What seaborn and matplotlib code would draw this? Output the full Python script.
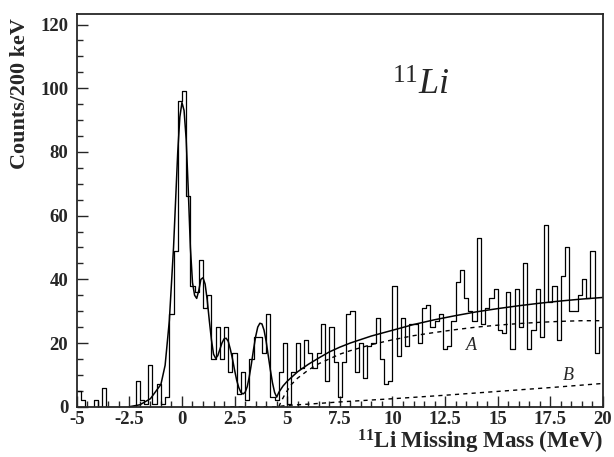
import numpy as np
import pandas as pd
import matplotlib
matplotlib.use("Agg")
import matplotlib.pyplot as plt
import seaborn as sns

# histogram: 200 keV bins from -5 to 20 MeV
bin_lo, bin_hi, bin_w = -5.0, 20.0, 0.2
counts = [5, 2, 0, 0, 2, 0, 6, 0, 0, 0,
          0, 0, 0, 0, 8, 2, 1, 13, 1, 7,
          1, 3, 29, 49, 96, 99, 66, 38, 36, 46,
          31, 35, 15, 25, 15, 25, 11, 17, 4, 11,
          2, 15, 22, 22, 17, 29, 3, 2, 11, 20,
          1, 11, 20, 12, 21, 17, 12, 17, 26, 8,
          25, 14, 3, 14, 29, 30, 11, 20, 9, 19,
          20, 28, 15, 7, 8, 38, 16, 28, 19, 26,
          26, 20, 31, 32, 25, 27, 29, 18, 19, 27,
          39, 43, 34, 30, 27, 53, 26, 31, 34, 37,
          24, 23, 36, 18, 37, 25, 45, 18, 24, 37,
          22, 57, 33, 38, 21, 41, 50, 30, 30, 35,
          40, 34, 49, 17, 25]

# total fit (solid)
fit_x = [-2.5, -2.0, -1.5, -1.0, -0.8, -0.6, -0.4, -0.2, -0.1, 0.0,
         0.1, 0.2, 0.3, 0.4, 0.5, 0.6, 0.7, 0.8, 0.9, 1.0,
         1.1, 1.2, 1.3, 1.4, 1.5, 1.6, 1.7, 1.8, 1.9, 2.0,
         2.1, 2.2, 2.3, 2.4, 2.5, 2.6, 2.7, 2.8, 2.9, 3.0,
         3.1, 3.2, 3.3, 3.4, 3.5, 3.6, 3.7, 3.8, 3.9, 4.0,
         4.1, 4.2, 4.3, 4.4, 4.5, 4.6, 4.8, 5.0, 5.5, 6.0,
         6.5, 7.0, 7.5, 8.0, 9.0, 10.0, 11.0, 12.0, 13.0, 14.0,
         15.0, 16.0, 17.0, 18.0, 19.0, 20.0]
fit_y = [0.0, 0.6, 2.5, 7.0, 13.0, 27.0, 50.0, 80.0, 91.0, 95.5,
         93.0, 84.0, 68.0, 50.0, 39.0, 35.0, 34.0, 36.5, 40.0, 40.5,
         38.5, 33.5, 27.0, 21.0, 16.5, 15.2, 16.0, 18.0, 20.0, 21.3,
         21.5, 20.5, 18.0, 15.0, 11.5, 8.3, 6.0, 4.5, 4.0, 4.5,
         6.3, 9.5, 13.5, 18.0, 22.0, 25.0, 26.2, 26.0, 24.0, 20.5,
         16.0, 11.5, 7.5, 4.5, 3.0, 4.5, 6.5, 8.0, 11.0, 13.3,
         15.3, 17.2, 18.7, 20.0, 22.2, 24.0, 25.8, 27.3, 28.6, 29.8,
         30.8, 31.7, 32.5, 33.2, 33.8, 34.3]

# background A (dashed)
bg_a_x = [4.6, 4.7, 4.9, 5.2, 5.5, 6.0, 6.5, 7.0, 7.5, 8.0, 9.0, 10.0,
          11.0, 12.0, 13.0, 14.0, 15.0, 16.0, 17.0, 18.0, 19.0, 20.0]
bg_a_y = [0.0, 1.5, 4.0, 7.0, 9.0, 11.5, 13.5, 15.0, 16.5, 17.6, 19.5, 21.0,
          22.3, 23.3, 24.2, 25.0, 25.6, 26.1, 26.5, 26.8, 27.0, 27.0]

# background B (dashed)
bg_b_x = [2.3, 4.5, 5.0, 6.0, 7.5, 10.0, 12.5, 15.0, 17.5, 20.0]
bg_b_y = [0.0, 0.0, 0.4, 0.8, 1.5, 2.5, 3.6, 4.8, 6.0, 7.3]

x_ticks = [-5, -2.5, 0, 2.5, 5, 7.5, 10, 12.5, 15, 17.5, 20]
y_ticks = [0, 20, 40, 60, 80, 100, 120]

edges = [bin_lo + bin_w * i for i in range(len(counts) + 1)]
hist_df = pd.DataFrame({"mass": [e + bin_w / 2 for e in edges[:-1]], "counts": counts})

sns.set_style("ticks")
plt.rcParams["font.family"] = ["Liberation Serif", "DejaVu Serif"]
plt.rcParams["mathtext.fontset"] = "custom"
plt.rcParams["mathtext.rm"] = "Liberation Serif"
plt.rcParams["mathtext.it"] = "Liberation Serif:italic"
plt.rcParams["mathtext.bf"] = "Liberation Serif:bold"
plt.rcParams["axes.unicode_minus"] = False

fig = plt.figure(figsize=(6.14, 4.57), dpi=100)
ax = fig.add_axes([76.7 / 614, 1 - 406.7 / 457, (603 - 76.7) / 614, (406.7 - 14) / 457])

# histogram
sns.histplot(data=hist_df, x="mass", weights="counts", bins=edges, element="step",
             fill=False, color="black", linewidth=0.9, ax=ax)

# fit curves
sns.lineplot(x=fit_x, y=fit_y, color="black", linewidth=1.1, ax=ax)
sns.lineplot(x=bg_a_x, y=bg_a_y, color="black", linewidth=1.0,
             linestyle=(0, (3, 3)), ax=ax)
sns.lineplot(x=bg_b_x, y=bg_b_y, color="black", linewidth=1.0,
             linestyle=(0, (3, 3)), ax=ax)

ax.set_xlim(-5, 20)
ax.set_ylim(0, 123.3)
ax.set_xticks(x_ticks)
ax.set_xticklabels(["%g" % t for t in x_ticks])
ax.set_yticks(y_ticks)
ax.set_yticklabels([str(t) for t in y_ticks])
ax.set_xticks(np.arange(-5, 20.01, 0.5), minor=True)
ax.set_yticks(np.arange(0, 123, 5), minor=True)
ax.tick_params(which="both", direction="in", top=False, right=False, width=1.0)
ax.tick_params(which="major", length=8, labelsize=13.5, pad=3)
ax.tick_params(axis="y", which="major", pad=6)
ax.tick_params(which="minor", length=4)
for lab in ax.get_xticklabels() + ax.get_yticklabels():
    lab.set_fontweight("bold")
for sp in ax.spines.values():
    sp.set_visible(True)
    sp.set_linewidth(1.3)
ax.set_xlabel("")
ax.set_ylabel("")

fig.text(603 / 614, 1 - 449 / 457, r"$\mathbf{^{11}Li\ Missing\ Mass\ (MeV)}$",
         ha="right", va="baseline", fontsize=16.5)
fig.text(20 / 614, 1 - 18 / 457, "Counts/200 keV", rotation=90, ha="center",
         va="top", fontsize=15.9, fontweight="bold")

ax.text(11.35, 100.5, r"$^{\mathit{11}}\mathit{Li}$", fontsize=26, ha="center", va="center")
ax.text(13.75, 19.3, "A", fontstyle="italic", fontsize=13, ha="center", va="center")
ax.text(18.35, 9.9, "B", fontstyle="italic", fontsize=13, ha="center", va="center")

fig.savefig("out.png", dpi=100)
